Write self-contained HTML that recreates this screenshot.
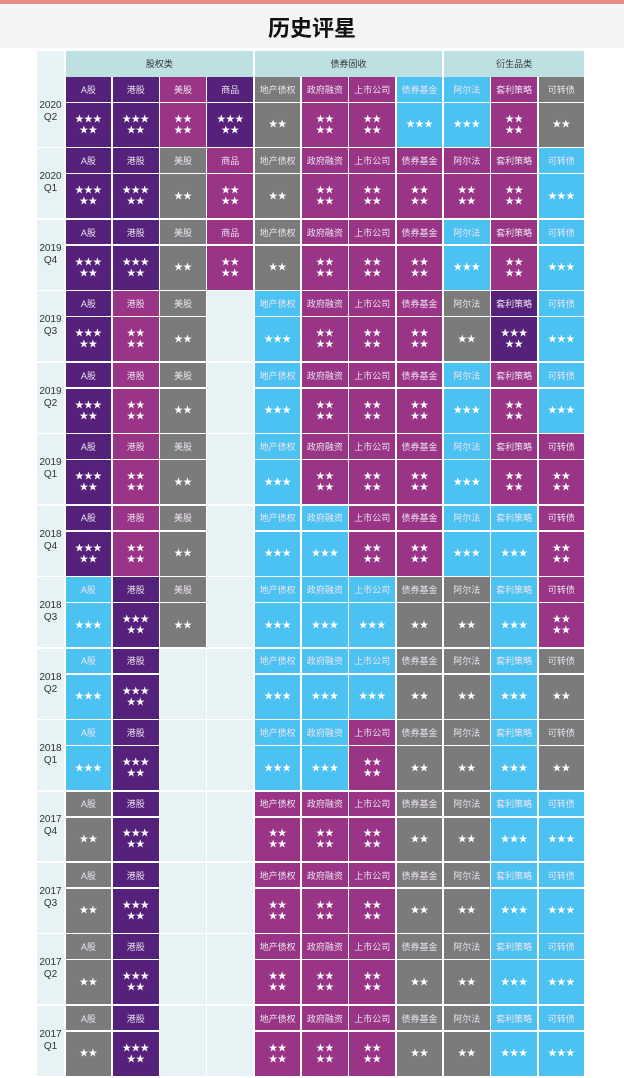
<!DOCTYPE html>
<html><head><meta charset="utf-8">
<style>
html,body{margin:0;padding:0;}
body{width:624px;height:1078px;position:relative;background:#fff;font-family:"Liberation Sans","Noto Sans CJK SC",sans-serif;overflow:hidden;}
#topbar{position:absolute;left:0;top:0;width:624px;height:4px;background:#e88a88;}
#titlebar{position:absolute;left:0;top:4px;width:624px;height:44px;background:#f4f4f6;}
#title{position:absolute;left:0;top:14px;width:624px;text-align:center;font-size:22px;font-weight:bold;color:#111;line-height:30px;}
.c{position:absolute;box-sizing:border-box;display:flex;align-items:center;justify-content:center;text-align:center;}
.lbl{font-size:9px;color:#ece4ef;}
.st{font-size:9px;color:#fff;line-height:11px;flex-direction:column;letter-spacing:0px;}
.hd{font-size:9px;color:#333;background:#bde0e3;}
.yr{font-size:10px;color:#333;background:#e6f2f3;line-height:12px;flex-direction:column;}
</style></head>
<body>
<div id="topbar"></div>
<div id="titlebar"></div>
<div id="title">历史评星</div>
<div id="grid"></div>
<script>
const quarters=["2020 Q2","2020 Q1","2019 Q4","2019 Q3","2019 Q2","2019 Q1","2018 Q4","2018 Q3","2018 Q2","2018 Q1","2017 Q4","2017 Q3","2017 Q2","2017 Q1"];
const assets=["A股","港股","美股","商品","地产债权","政府融资","上市公司","债券基金","阿尔法","套利策略","可转债"];
const groups=["股权类","债券固收","衍生品类"];
const groupSpans=[4,4,3];
const ratings=[
[5,5,4,5,2,4,4,3,3,4,2],
[5,5,2,4,2,4,4,4,4,4,3],
[5,5,2,4,2,4,4,4,3,4,3],
[5,4,2,0,3,4,4,4,2,5,3],
[5,4,2,0,3,4,4,4,3,4,3],
[5,4,2,0,3,4,4,4,3,4,4],
[5,4,2,0,3,3,4,4,3,3,4],
[3,5,2,0,3,3,3,2,2,3,4],
[3,5,0,0,3,3,3,2,2,3,2],
[3,5,0,0,3,3,4,2,2,3,2],
[2,5,0,0,4,4,4,2,2,3,3],
[2,5,0,0,4,4,4,2,2,3,3],
[2,5,0,0,4,4,4,2,2,3,3],
[2,5,0,0,4,4,4,2,2,3,3]
];
const colors={5:"#55217a",4:"#993487",3:"#4bc2f2",2:"#7b7b7b",0:"#e6f2f3"};
const grid=document.getElementById('grid');
const X0=65.5,CW=47.3,Y0=77,BH=71.45,LH=26,G=1.5;
function cell(x,y,w,h,cls,html,bg){const d=document.createElement('div');d.className='c '+cls;d.style.left=x+'px';d.style.top=y+'px';d.style.width=w+'px';d.style.height=h+'px';if(bg)d.style.background=bg;d.innerHTML=html;grid.appendChild(d);return d;}
let cn=cell(37,50.5,X0-37-G,26,'yr','', '#e6f2f3');


let ci=0;
groups.forEach((g,i)=>{const w=groupSpans[i]*CW-G;const h=cell(X0+ci*CW,50.5,w,26,'hd',g);


ci+=groupSpans[i];});
quarters.forEach((q,r)=>{
  const y=Y0+r*BH;
  const p=q.split(' ');
  const yl=cell(37,y,X0-37-G,BH-G,'yr',p[0]+'<br>'+p[1]);
  
  
  assets.forEach((a,c)=>{
    const v=ratings[r][c];const x=X0+c*CW;const bg=colors[v];
    if(v===0){const e=cell(x,y,CW-G,BH-G,'','',bg);
      
      return;}
    const l=cell(x,y,CW-G,LH-G,'lbl',a,bg);
    
    
    let s='';
    if(v===5)s='<div>★★★</div><div>★★</div>';
    else if(v===4)s='<div>★★</div><div>★★</div>';
    else if(v===3)s='<div>★★★</div>';
    else s='<div>★★</div>';
    const sc=cell(x,y+LH,CW-G,BH-LH-G,'st',s,bg);
    
    
  });
});
</script>
</body></html>
